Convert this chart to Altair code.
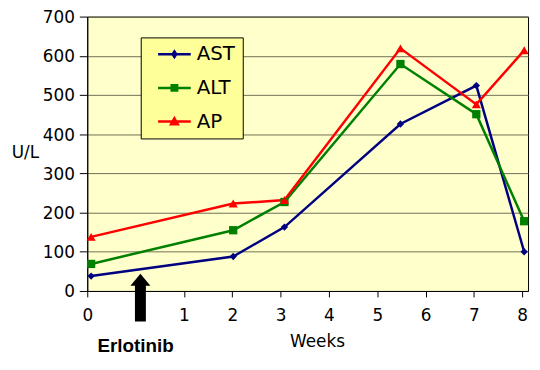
import altair as alt
import pandas as pd

# ---- data ----
series_names = ["AST", "ALT", "AP"]
series_colors = ["#000080", "#008000", "#FF0000"]
series_shapes = ["diamond", "square", "triangle-up"]
series_sizes = [55, 70, 85]

weeks = [0.04, 2.02, 3.08, 5.48, 7.05, 8.04]
ast_values = [38, 88, 163, 426, 524, 100]
alt_values = [69, 155, 227, 579, 451, 178]
ap_values = [138, 223, 232, 619, 476, 614]

week_ticks = [0, 1, 2, 3, 4, 5, 6, 7, 8]
y_ticks = [0, 100, 200, 300, 400, 500, 600, 700]

annotation_text = ["Erlotinib"]
annotation_week = [0.5]
annotation_value = [-140]
arrow_week = [0.55]
arrow_value = [-17]

# axis position: the first week interval is drawn twice as wide
pos_expr = "datum.week <= 1 ? 2 * datum.week : datum.week + 1"
tick_positions = [0 if w == 0 else w + 1 for w in week_ticks]
tick_label_expr = "datum.value == 0 ? '0' : '' + (datum.value - 1)"

rows = []
for name, vals in zip(series_names, [ast_values, alt_values, ap_values]):
    for w, v in zip(weeks, vals):
        rows.append({"series": name, "week": w, "value": v})
df = pd.DataFrame(rows)

ann_df = pd.DataFrame({"week": annotation_week, "value": annotation_value, "text": annotation_text})
arrow_df = pd.DataFrame({"week": arrow_week, "value": arrow_value})

x_scale = alt.Scale(domain=[0, 9.12], nice=False, zero=False)
y_scale = alt.Scale(domain=[0, 700], nice=False)

x_axis = alt.Axis(
    title="Weeks", values=tick_positions, labelExpr=tick_label_expr, grid=False,
    tickSize=6, labelPadding=11, labelOverlap=False, labelFlush=False,
    titleX=232, titleY=56, titleAlign="center", titleBaseline="alphabetic",
)
y_axis = alt.Axis(
    title="U/L", values=y_ticks, grid=True, gridColor="#6f6f55", gridWidth=1,
    tickSize=8, labelPadding=5, labelOverlap=False, labelFlush=False, labelOffset=1,
    titleAngle=0, titleX=-63, titleY=137, titleAlign="center", titleBaseline="middle",
)

X = alt.X("u:Q", scale=x_scale, axis=x_axis)
Y = alt.Y("value:Q", scale=y_scale, axis=y_axis)

# legend symbol: a short line with the series marker in its middle
line_path = "M0.06,0H3.94"
legend_paths = {
    "AST": line_path + "M2,-0.33L2.22,0L2,0.33L1.78,0Z",
    "ALT": line_path + "M1.68,-0.32H2.32V0.32H1.68Z",
    "AP": line_path + "M2,-0.4L2.4,0.32H1.6Z",
}
shape_expr = (
    f"datum.value === 'AST' ? '{legend_paths['AST']}' : "
    f"datum.value === 'ALT' ? '{legend_paths['ALT']}' : '{legend_paths['AP']}'"
)

legend = alt.Legend(
    title=None, orient="none", legendX=54, legendY=21, padding=7, rowPadding=14,
    symbolSize=289, symbolStrokeWidth=2.5, labelOffset=29.5,
    labelFont="DejaVu Sans", labelFontSize=20, labelColor="black",
    labelExpr="datum.label + '\u00a0\u00a0'",
    strokeColor="black", fillColor="#FFFF99",
    symbolType=alt.ExprRef(expr=shape_expr),
    symbolFillColor=alt.ExprRef(expr="scale('color', datum.value)"),
    symbolStrokeColor=alt.ExprRef(expr="scale('color', datum.value)"),
    symbolOpacity=1,
)

color_scale = alt.Scale(domain=series_names, range=series_colors)

base = alt.Chart(df).transform_calculate(u=pos_expr)

lines = base.mark_line(strokeWidth=2.5).encode(
    x=X, y=Y,
    color=alt.Color("series:N", scale=color_scale, legend=legend, sort=series_names),
    order=alt.Order("week:Q"),
)

point_layers = []
for name, color, shape, size in zip(series_names, series_colors, series_shapes, series_sizes):
    point_layers.append(
        base.transform_filter(alt.datum.series == name).mark_point(
            filled=True, opacity=1, strokeWidth=0, shape=shape, size=size, color=color
        ).encode(x=X, y=Y)
    )

arrow_shape = "M0,-1L0.42,-0.5L0.23,-0.5L0.23,1L-0.23,1L-0.23,-0.5L-0.42,-0.5Z"
arrow = alt.Chart(arrow_df).transform_calculate(u=pos_expr).mark_point(
    shape=arrow_shape, size=2304, filled=True, color="black", opacity=1, strokeWidth=0
).encode(x=X, y=Y)

label = alt.Chart(ann_df).transform_calculate(u=pos_expr).mark_text(
    font="Liberation Sans", fontWeight="bold", fontSize=19, color="black",
    align="center", baseline="middle"
).encode(x=X, y=Y, text="text:N")

chart = alt.layer(lines, *point_layers, arrow, label).properties(
    width=445, height=277,
    autosize=alt.AutoSizeParams(type="none"),
    padding={"left": 80, "top": 7, "right": 4, "bottom": 68},
    background="white",
).configure_view(
    stroke="black", strokeWidth=1, fill="#FFFFCC"
).configure_axis(
    labelFont="DejaVu Sans", labelFontSize=17, labelColor="black",
    titleFont="DejaVu Sans", titleFontSize=17, titleFontWeight="normal", titleColor="black",
    domainColor="black", tickColor="black", domainWidth=1, tickWidth=1,
)

chart.save("out.html", embed_options={"renderer": "svg", "actions": False})
